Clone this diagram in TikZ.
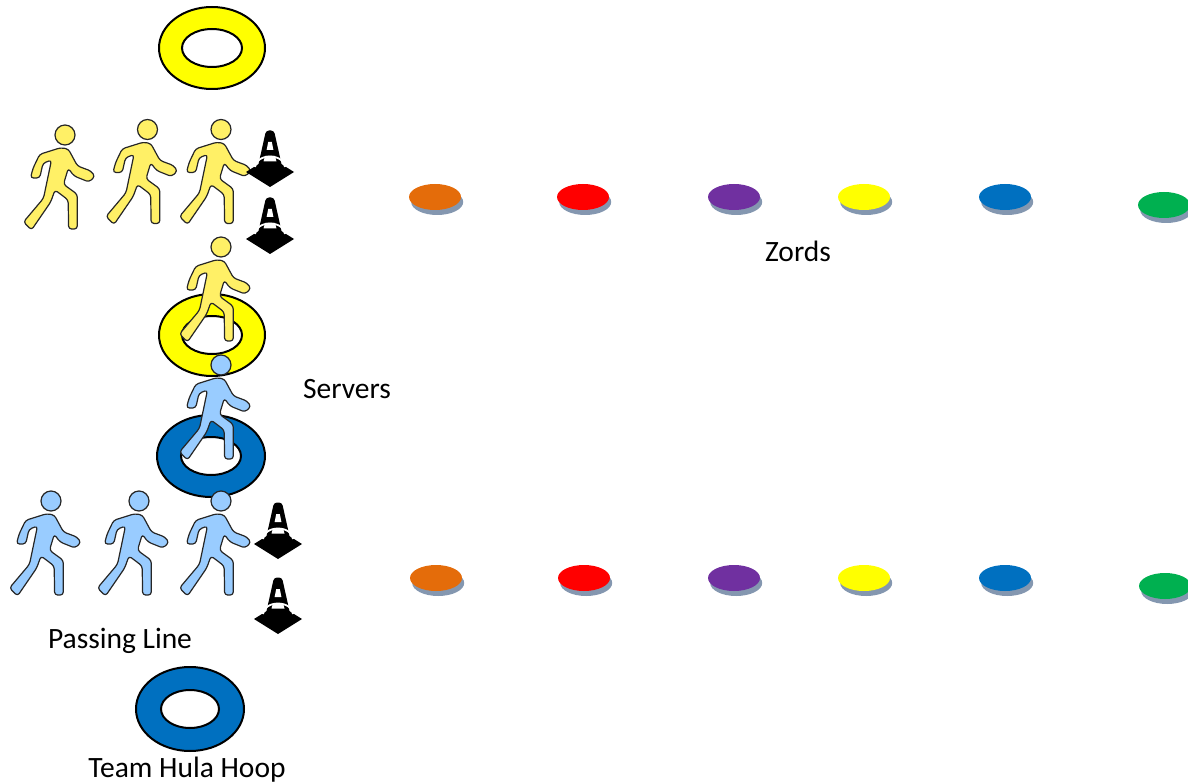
\documentclass[tikz,border=0pt]{standalone}
\usepackage{fontspec}
\setmainfont{Carlito}
\definecolor{hoopyellow}{HTML}{FFFF00}
\definecolor{hoopblue}{HTML}{0070C0}
\definecolor{walkyellow}{HTML}{FFF066}
\definecolor{walkblue}{HTML}{99CCFF}
\definecolor{shadowgrey}{HTML}{8497B0}
\definecolor{dorange}{HTML}{E46C0A}
\definecolor{dred}{HTML}{FF0000}
\definecolor{dpurple}{HTML}{7030A0}
\definecolor{dyellow}{HTML}{FFFF00}
\definecolor{dblue}{HTML}{0070C0}
\definecolor{dgreen}{HTML}{00B050}
\tikzset{
  x=1pt,y=-1pt,
  lbl/.style={font=\fontsize{29.5}{34}\selectfont,text=black,inner sep=0pt},
  pics/walker/.style={code={
    \filldraw[fill=#1,draw=black!85,line width=1.2,line join=round,rounded corners=3]
      (-4.3,12.7) -- (3.3,14) -- (12.5,31) -- (26,36) -- (30,41.5) -- (24,47)
      -- (9,41) -- (3.3,33.3) -- (-1.5,49.3) -- (12.3,59.3) -- (12.3,94) -- (3.6,94)
      -- (3.2,65) -- (-10,55) -- (-14.3,67) -- (-33.5,95) -- (-41.5,87) -- (-21.5,63.3)
      -- (-13.5,25) -- (-22,28.3) -- (-25.3,43) -- (-34.5,43) -- (-32,33.3)
      -- (-25.3,19.3) -- cycle;
    \fill[#1,draw=black!85,line width=1.2] (0,0) circle[radius=10];
  }},
  pics/cone/.style={code={
    \fill[black] (-24,-1) -- (0,-16) -- (24,-1) -- (0,14) -- cycle;
    \fill[black,rounded corners=3] (-4,-42.5) -- (4,-42.5) -- (13.5,0) -- (-13.5,0) -- cycle;
    \fill[black] (0,-1) ellipse[x radius=13.5,y radius=5];
    \draw[white,line width=1.8] (-15,-6) arc[start angle=180,end angle=360,x radius=15,y radius=10.5];
    \fill[white] (-1.8,-31) -- (1.8,-31) -- (3.4,-23) -- (-3.4,-23) -- cycle;
    \fill[white] (-5,-17) -- (5,-17) -- (6.5,-11.5) -- (-6.5,-11.5) -- cycle;
  }},
  pics/hoop/.style args={#1/#2/#3/#4/#5}{code={
    \fill[#1,draw=black,line width=2,even odd rule]
      (0,0) ellipse[x radius=#2,y radius=#3]
      (0,0) ellipse[x radius=#4,y radius=#5];
  }},
  pics/disc/.style={code={
    \fill[shadowgrey] (2.2,5) ellipse[x radius=26,y radius=13];
    \fill[#1] (0,0) ellipse[x radius=26,y radius=13];
  }},
}
\begin{document}
\begin{tikzpicture}
\useasboundingbox (0,0) rectangle (1188,783);
\clip (0,0) rectangle (1188,783);
% hoops and walkers, back to front
\pic (hoopA) at (212,48) {hoop={hoopyellow/53/41/30/19}};
\pic (hoopB) at (212,335) {hoop={hoopyellow/53/41/30/19}};
\pic (hoopD) at (190,709) {hoop={hoopblue/54/42/29/19}};
\pic (wyA) at (65,135) {walker=walkyellow};
\pic (wyB) at (147.5,129.5) {walker=walkyellow};
\pic (wyC) at (221,129.5) {walker=walkyellow};
\pic (wyD) at (221,247) {walker=walkyellow};
\pic (hoopC) at (211,456) {hoop={hoopblue/54/41/30/19}};
\pic (wbA) at (51,501) {walker=walkblue};
\pic (wbB) at (139,501) {walker=walkblue};
\pic (wbC) at (221,501) {walker=walkblue};
\pic (wbD) at (221,365) {walker=walkblue};
% cones
\pic (coneA) at (270,173) {cone};
\pic (coneB) at (270,240) {cone};
\pic (coneC) at (278,545) {cone};
\pic (coneD) at (278,620) {cone};
% discs
\pic (d1) at (435,197) {disc=dorange};
\pic (d2) at (583,197) {disc=dred};
\pic (d3) at (734,197) {disc=dpurple};
\pic (d4) at (864,197) {disc=dyellow};
\pic (d5) at (1005,197) {disc=dblue};
\pic (d6) at (1164,205) {disc=dgreen};
\pic (d7) at (436,578) {disc=dorange};
\pic (d8) at (584,578) {disc=dred};
\pic (d9) at (734,578) {disc=dpurple};
\pic (d10) at (864,578) {disc=dyellow};
\pic (d11) at (1005,578) {disc=dblue};
\pic (d12) at (1165,586) {disc=dgreen};
% labels
\node[lbl] (zords) at (798,251) {Zords};
\node[lbl] (servers) at (347,389) {Servers};
\node[lbl] (passing) at (120,641) {Passing Line};
\node[lbl] (team) at (187,770) {Team Hula Hoop};
\end{tikzpicture}
\end{document}
